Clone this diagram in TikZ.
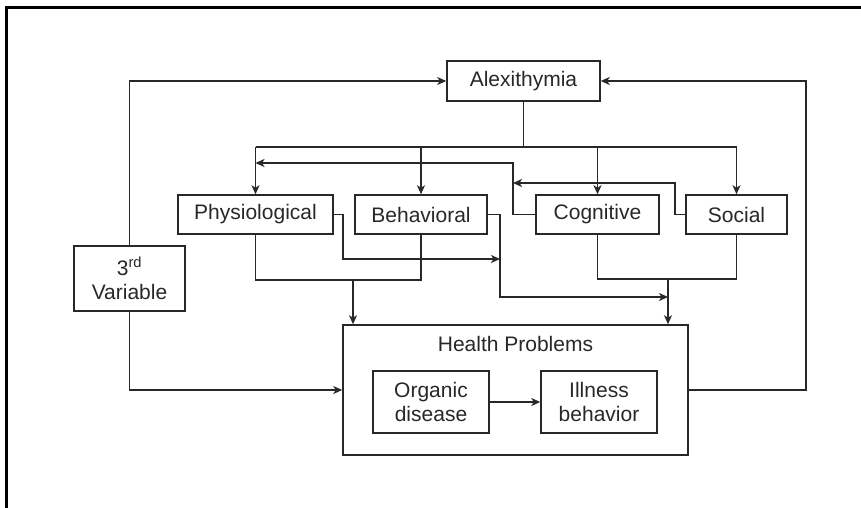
\documentclass[tikz,border=0pt]{standalone}
\usepackage{fontspec}
\setmainfont{Liberation Sans}
\usetikzlibrary{arrows.meta}
\definecolor{inkc}{RGB}{40,40,40}
\begin{document}
\begin{tikzpicture}[x=1pt,y=-1pt,
  ink/.style={draw=inkc, line width=1.5pt},
  box/.style={ink, rectangle, inner sep=0pt, align=center, text=inkc,
    font=\fontsize{21}{24}\selectfont},
  lbl/.style={inner sep=0pt, text=inkc, font=\fontsize{21}{24}\selectfont},
  conn/.style={ink, line join=miter},
  arr/.style={conn, -{Stealth[length=9pt,width=8pt,inset=2.5pt]}},
]
\useasboundingbox (0,0) rectangle (861,508);
\fill[white] (0,0) rectangle (861,508);
\draw[line width=3pt, black] (6,508) -- (6,8) -- (861,8);

% nodes
\node[box, minimum width=153pt, minimum height=40pt] (alex) at (523.5,81) {Alexithymia};
\node[box, minimum width=155pt, minimum height=39pt] (phys) at (255.5,214.5) {Physiological};
\node[box, minimum width=132pt, minimum height=39pt] (beh) at (421,214.5) {Behavioral};
\node[box, minimum width=123pt, minimum height=39pt] (cog) at (597.5,214.5) {Cognitive};
\node[box, minimum width=101pt, minimum height=39pt] (soc) at (736.5,214.5) {Social};
\node[box, minimum width=111pt, minimum height=65pt] (var) at (129.5,278.5) {3\textsuperscript{rd}\\Variable};
\node[box, minimum width=345pt, minimum height=130pt] (hp) at (515.5,390) {};
\node[lbl] (hpt) at (515.5,344) {Health Problems};
\node[box, minimum width=116pt, minimum height=62pt] (org) at (431,402) {Organic\\disease};
\node[box, minimum width=116pt, minimum height=62pt] (ill) at (599,402) {Illness\\behavior};

% helper coordinates
\coordinate (bus) at (523.5,147);
\coordinate (fb1) at (513,163);
\coordinate (fb2) at (675,183);
\coordinate (fb3) at (343,259);
\coordinate (fb4) at (500,297);
\coordinate (m1) at (353,280);
\coordinate (m2) at (668,279);
\coordinate (rl) at (806,390);

% Alexithymia to the four domains
\draw[conn] (alex.south) -- (bus);
\draw[conn] (phys.north |- bus) -- (soc.north |- bus);
\draw[arr] (phys.north |- bus) -- (phys.north);
\draw[arr] (beh.north |- bus) -- (beh.north);
\draw[arr] (cog.north |- bus) -- (cog.north);
\draw[arr] (soc.north |- bus) -- (soc.north);

% feedback lines
\draw[arr] (cog.west) -- (cog.west -| fb1) -- (fb1) -- (fb1 -| phys.north);
\draw[arr] (soc.west) -- (soc.west -| fb2) -- (fb2) -- (fb2 -| fb1);
\draw[arr] (phys.east) -- (phys.east -| fb3) -- (fb3) -- (fb3 -| fb4);
\draw[arr] (beh.east) -- (beh.east -| fb4) -- (fb4) -- (fb4 -| m2);

% merges into Health Problems
\draw[conn] (phys.south) -- (phys.south |- m1) -- (beh.south |- m1) -- (beh.south);
\draw[arr] (m1) -- (m1 |- hp.north);
\draw[conn] (cog.south) -- (cog.south |- m2) -- (soc.south |- m2) -- (soc.south);
\draw[arr] (m2) -- (m2 |- hp.north);

% third variable
\draw[arr] (var.north) |- (alex.west);
\draw[arr] (var.south) |- (hp.west);

% loop back
\draw[arr] (hp.east) -- (rl) |- (alex.east);

% inside health problems
\draw[arr] (org) -- (ill);
\end{tikzpicture}
\end{document}
